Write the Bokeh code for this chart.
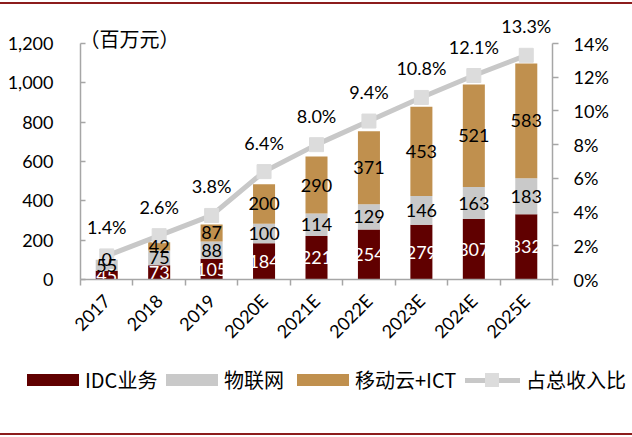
import math
from bokeh.plotting import figure
from bokeh.layouts import column
from bokeh.models import (ColumnDataSource, Range1d, LinearAxis, FixedTicker,
                          NumeralTickFormatter, PrintfTickFormatter, Label,
                          InlineStyleSheet, Div)
from bokeh.core.properties import value
from bokeh.embed import file_html
from bokeh.resources import INLINE

categories = ["2017", "2018", "2019", "2020E", "2021E", "2022E", "2023E", "2024E", "2025E"]
idc = [45, 73, 105, 184, 221, 254, 279, 307, 332]
iot = [55, 75, 88, 100, 114, 129, 146, 163, 183]
cloud = [0, 42, 87, 200, 290, 371, 453, 521, 583]
share = [1.4, 2.6, 3.8, 6.4, 8.0, 9.4, 10.8, 12.1, 13.3]
left_ticks = [0, 200, 400, 600, 800, 1000, 1200]
right_ticks = [0, 2, 4, 6, 8, 10, 12, 14]
series_names = ["IDC业务", "物联网", "移动云+ICT", "占总收入比"]
unit_label = "（百万元）"

colors = ["#600000", "#C9C9C9", "#C0904E"]
line_color = "#C8C8C8"
marker_color = "#DCDCDC"
axis_color = "#A6A6A6"
num_font = "Lato"
cjk_font = "Noto Sans CJK SC"

W, H = 632, 437
H_LEG = 72             # height of the legend strip under the chart
H_MAIN = H - H_LEG
axis_px = 236          # height of the axis span (0..1200)
headroom_px = 33       # extra frame space above the axis top
stretch = (axis_px + headroom_px) / axis_px

xs = list(range(len(categories)))
idc_mid = [a / 2 for a in idc]
iot_mid = [a + b / 2 for a, b in zip(idc, iot)]
cloud_mid = [a + b + c / 2 for a, b, c in zip(idc, iot, cloud)]

src = ColumnDataSource(dict(
    x=xs, idc=idc, iot=iot, cloud=cloud, share=share,
    idc_mid=idc_mid, iot_mid=iot_mid, cloud_mid=cloud_mid,
    idc_t=[str(v) for v in idc], iot_t=[str(v) for v in iot],
    cloud_t=[str(v) for v in cloud], share_t=[f"{v:.1f}%" for v in share],
))

p = figure(width=W, height=H_MAIN, output_backend="svg", toolbar_location=None,
           x_range=Range1d(-0.5, len(categories) - 0.5),
           y_range=Range1d(left_ticks[0], left_ticks[-1] * stretch),
           min_border_left=80, min_border_right=80, min_border_top=43 - headroom_px,
           min_border_bottom=H_MAIN - 279)
p.extra_y_ranges = {"pct": Range1d(right_ticks[0], right_ticks[-1] * stretch)}
p.outline_line_color = None
p.xgrid.visible = False
p.ygrid.visible = False
p.background_fill_color = "white"
p.border_fill_color = "white"

bars = p.vbar_stack(["idc", "iot", "cloud"], x="x", width=0.42, source=src,
                    fill_color=colors, line_color=None)

ln = p.line("x", "share", source=src, y_range_name="pct", line_color=line_color,
            line_width=5)
mk = p.scatter("x", "share", source=src, y_range_name="pct", marker="square",
               size=14, fill_color=marker_color, line_color=marker_color)

common = dict(text_font=value(num_font), text_font_size="18px",
              text_align="center", text_baseline="middle")
p.text("x", "idc_mid", text="idc_t", source=src, text_color="white", **common)
p.text("x", "iot_mid", text="iot_t", source=src, text_color="black", **common)
p.text("x", "cloud_mid", text="cloud_t", source=src, text_color="black", **common)
p.text("x", "share", text="share_t", source=src, y_range_name="pct",
       text_color="black", y_offset=-29, **common)

# x axis
xa = p.xaxis[0]
xa.ticker = FixedTicker(ticks=xs, minor_ticks=[i - 0.5 for i in range(len(categories) + 1)])
xa.major_label_overrides = {i: c for i, c in enumerate(categories)}
xa.major_label_orientation = math.pi / 4
xa.major_tick_line_color = None
xa.minor_tick_line_color = axis_color
xa.minor_tick_line_width = 1.5
xa.minor_tick_out = 6
xa.minor_tick_in = 0
xa.axis_line_color = axis_color
xa.axis_line_width = 1.5
xa.major_label_text_font = num_font
xa.major_label_text_font_size = "18px"
xa.major_label_text_color = "black"
xa.major_label_standoff = 12

# left axis
ya = p.yaxis[0]
ya.bounds = (left_ticks[0], left_ticks[-1])
ya.ticker = FixedTicker(ticks=left_ticks)
ya.formatter = NumeralTickFormatter(format="0,0")
ya.axis_line_color = axis_color
ya.axis_line_width = 1.5
ya.major_tick_line_color = axis_color
ya.major_tick_line_width = 1.5
ya.major_tick_in = 5
ya.major_tick_out = 0
ya.minor_tick_line_color = None
ya.major_label_text_font = num_font
ya.major_label_text_font_size = "18px"
ya.major_label_text_color = "black"
ya.major_label_standoff = 27

# right axis
ra = LinearAxis(y_range_name="pct", ticker=FixedTicker(ticks=right_ticks),
                formatter=PrintfTickFormatter(format="%d%%"),
                bounds=(right_ticks[0], right_ticks[-1]))
ra.axis_line_color = axis_color
ra.axis_line_width = 1.5
ra.major_tick_line_color = axis_color
ra.major_tick_line_width = 1.5
ra.major_tick_in = 0
ra.major_tick_out = 6
ra.minor_tick_line_color = None
ra.major_label_text_font = num_font
ra.major_label_text_font_size = "18px"
ra.major_label_text_color = "black"
ra.major_label_standoff = 15
p.add_layout(ra, "right")

# unit label
p.add_layout(Label(x=-0.5, y=left_ticks[-1], x_offset=-1, y_offset=5, text=unit_label,
                   text_font=cjk_font, text_font_size="20px", text_color="black",
                   text_baseline="middle"))

# legend strip under the chart (HTML swatches + real text)
swatch_left = [27, 166, 297, 465]
swatch_w = [52, 52, 52, 55]
parts = []
for i, name in enumerate(series_names):
    left, w = swatch_left[i], swatch_w[i]
    if i < 3:
        parts.append(f'<div style="position:absolute;left:{left}px;top:9px;width:{w}px;'
                     f'height:12px;background:{colors[i]}"></div>')
    else:
        parts.append(f'<div style="position:absolute;left:{left}px;top:13px;width:{w}px;'
                     f'height:5px;background:{line_color}"></div>')
        parts.append(f'<div style="position:absolute;left:{left + w // 2 - 7}px;top:8px;'
                     f'width:14px;height:14px;background:{marker_color}"></div>')
    parts.append(f'<div style="position:absolute;left:{left + w + 6}px;top:3px;'
                 f'white-space:nowrap;line-height:24px">{name}</div>')
legend_html = (f'<div style="position:relative;width:{W}px;height:{H_LEG}px;'
               f"font-family:'{cjk_font}';font-size:20px;color:#000;background:white\">"
               + "".join(parts) + "</div>")
leg = Div(text=legend_html, width=W, height=H_LEG, margin=0)

page = column(p, leg, spacing=0)
# decorative rules of the report frame
page.stylesheets = [InlineStyleSheet(css="""
:host::before { content: ""; position: absolute; left: 0; top: 2px; width: 632px;
  height: 1.5px; background: #8C1C1C; z-index: 10; }
:host::after { content: ""; position: absolute; left: 0; top: 433px; width: 632px;
  height: 1.5px; background: #8C1C1C; z-index: 10; }
""")]

open("out.html", "w").write(file_html(page, INLINE))
